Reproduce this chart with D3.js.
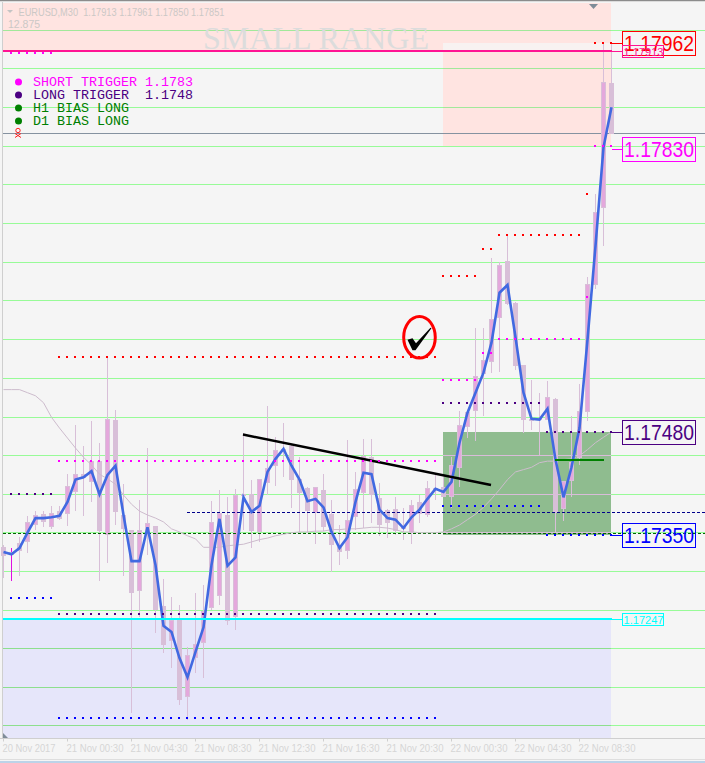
<!DOCTYPE html>
<html><head><meta charset="utf-8">
<script src="https://cdn.jsdelivr.net/npm/d3@7/dist/d3.min.js"></script>
<style>html,body{margin:0;padding:0;background:#f5f5f5;overflow:hidden}svg{display:block}</style>
</head><body><div id="c"></div>
<script>
// All price series are in points above 1.17000 (1 point = 0.00001)
const opens=[334,324,340,341,363,377,360,381,377,406,429,419,446,350,500,376,357,277,350,362,258,212,241,139,190,210,255,271,376,243,403,403,354,418,440,462,466,423,411,379,409,377,334,329,373,405,451,398,383,384,360,353,393,376,411,412,399,437,490,511,559,575,632,706,652,571,501,502,500,527,384,420,450,510,675,775,938];
const highs=[337,333,347,375,381,381,388,388,429,493,466,498,470,581,513,416,357,396,463,362,293,269,259,204,275,285,394,409,399,410,483,422,423,518,477,496,467,451,412,412,429,396,363,474,432,475,475,418,384,399,385,396,402,420,431,427,451,511,511,619,619,710,705,740,653,571,552,535,550,528,420,505,546,685,793,990,990];
const lows=[294,290,297,327,357,360,358,370,362,381,375,393,290,314,363,297,119,243,324,223,197,177,129,110,171,164,253,259,233,227,357,333,341,402,414,425,385,353,353,338,355,302,311,319,357,359,366,349,346,350,344,338,366,373,396,399,385,412,476,472,505,561,562,649,565,483,487,454,500,354,368,399,441,498,670,726,871];
const closes=[323,328,329,367,376,367,379,371,414,429,424,446,355,501,380,358,275,357,366,253,207,240,136,194,208,251,367,379,238,402,401,355,423,437,461,459,422,405,381,412,360,337,328,370,410,453,402,363,366,355,358,389,377,411,409,399,441,493,510,557,578,631,701,650,570,500,498,500,529,379,420,445,511,676,770,939,871];
const fastLine=[328,325,333,353,372,372,373,375,393,422,425,433,403,428,440,376,316,316,360,311,232,224,190,165,198,230,311,371,310,321,399,380,388,432,449,462,440,422,394,397,386,354,333,347,393,431,429,383,372,370,359,373,383,397,410,406,419,470,509,535,561,600,665,675,607,535,501,500,514,448,399,438,489,604,726,854,906];
const slowLine=[539,539,539,535,531,522,503,489,476,463,451,441,429,423,416,402,390,381,376,372,367,358,354,349,345,334,334,334,336,337,338,341,344,346,349,351,353,354,354,355,355,357,357,358,358,359,360,360,359,357,354,354,353,353,353,354,358,363,370,377,386,397,409,422,432,435,438,444,446,446,448,449,453,461,470,477,484];
const gridLevels=[1006,956.5,906.4,855.7,806.3,755.6,704.9,654.9,604.2,554.1,504,454,403.3,353.3,302.6,251.9,202.5,152.4,102.4];
const tickBars=[0,8,16,24,32,40,48,56,64,72];
const tickLabels=["20 Nov 2017","21 Nov 00:30","21 Nov 04:30","21 Nov 08:30","21 Nov 12:30","21 Nov 16:30","21 Nov 20:30","22 Nov 00:30","22 Nov 04:30","22 Nov 08:30"];
const legendText=["SHORT TRIGGER 1.1783","LONG TRIGGER  1.1748","H1 BIAS LONG","D1 BIAS LONG"];
const legendColors=["#ff00ff","#4b0082","#008000","#008000"];
// zones: [firstBar,lastBar,topPts,bottomPts,fill,gridTint]
const zones=[
 [0,76,1041.6,979,"#ffe4e1","#a2e89a"],
 [55,76,989.6,855.7,"#ffe4e1","#a2e89a"],
 [55,76,989.6,979,"#f8f2f1","#a2e89a"],
 [0,76,241,86.1,"#e6e6fa","#8ddf8d"],
 [55,76,484,350,"#8fbc8f","#d9bcd9"]];
// dotted levels: [firstBar,lastBar,pts,colour]
const dotted=[
 [7,54,581.4,"#ff0000"],[1,6,976.6,"#ff00ff"],[7,54,446,"#ff00ff"],[1,6,403,"#4b0082"],[1,6,268,"#0000ff"],
 [7,54,247,"#4b0082"],[7,54,111.5,"#0000ff"],[74,76,990,"#ff0000"],[74,76,856,"#ff00ff"],[73,73,793,"#ff0000"],
 [62,72,740,"#ff0000"],[60,61,722,"#ff0000"],[55,59,687,"#ff0000"],[62,72,605,"#ff00ff"],[60,61,586,"#ff00ff"],
 [55,59,551,"#ff00ff"],[73,73,659,"#ff00ff"],[55,67,522,"#4b0082"],[55,67,388,"#0000ff"],[68,76,484,"#4b0082"],[68,76,350,"#0000ff"]];
// price tags: [levelPts,text,colour,big]
const tags=[[990,"1.17962","#ff0000",1],[856,"1.17830","#ff00ff",1],[484,"1.17480","#4b0082",1],[350,"1.17350","#0000ff",1],[241,"1.17247","#00ffff",0],[979,"1.17913","#ff1493",0]];
const trendBars=[30,61],trendPts=[480.6,415];
const shortBars=[69,75],shortPts=447;
const hiLine=979,loLine=241,greyLine=872.6,greenDash=352.6,navyDash=380,navyStartBar=23;

const W=705,H=763;
const svg=d3.select("#c").append("svg").attr("width",W).attr("height",H);
const x=d3.scaleLinear().domain([0,76]).range([3,611]);
const y=d3.scaleLinear().domain([1045.5,53.6]).range([0,763]);
const py=v=>Math.round(y(v));
const sans="'Liberation Sans',Arial,sans-serif";

svg.append("rect").attr("width",W).attr("height",H).attr("fill","#f5f5f5");
svg.append("rect").attr("width",W).attr("height",1).attr("fill","#8c8c8c");
svg.append("rect").attr("y",1).attr("width",W).attr("height",1).attr("fill","#dcdcdc");

// zones
zones.forEach(z=>svg.append("rect").attr("x",x(z[0])).attr("y",py(z[2]))
  .attr("width",x(z[1])-x(z[0])).attr("height",py(z[3])-py(z[2])).attr("fill",z[4]));
// grid
gridLevels.forEach(g=>{
  const yy=py(g)+.5;
  svg.append("line").attr("x1",3).attr("x2",W).attr("y1",yy).attr("y2",yy).attr("stroke","#98fb98");
  zones.forEach(z=>{ if(g<z[2]&&g>z[3]) svg.append("line").attr("x1",x(z[0])).attr("x2",x(z[1])).attr("y1",yy).attr("y2",yy).attr("stroke",z[5]); });
});
// horizontal lines
const hl=(v,c,w,dash,x1)=>svg.append("line").attr("x1",x1||3).attr("x2",W).attr("y1",py(v)+.5).attr("y2",py(v)+.5)
  .attr("stroke",c).attr("stroke-width",w).attr("stroke-dasharray",dash||null);
hl(greyLine,"#8592a0",1);

// axes
const axis=d3.axisBottom(x).tickValues(tickBars).tickFormat((d,i)=>tickLabels[i]).tickSize(3).tickPadding(3).tickSizeOuter(0);
const ag=svg.append("g").attr("transform","translate(0,738.5)").call(axis);
ag.select(".domain").remove();
ag.selectAll("line").attr("stroke","#cfcfcf");
ag.selectAll("text").attr("fill","#d6d6d6").attr("font-family",sans).attr("font-size",10).attr("text-anchor","start").attr("dx",-1).attr("textLength",57).attr("lengthAdjust","spacingAndGlyphs");
ag.select("text").attr("textLength",53);
svg.append("line").attr("x1",0).attr("x2",W).attr("y1",738.5).attr("y2",738.5).attr("stroke","#cfcfcf");
svg.append("line").attr("x1",2.5).attr("x2",2.5).attr("y1",2).attr("y2",738).attr("stroke","#cfcfcf");
svg.append("rect").attr("y",759).attr("width",W).attr("height",1).attr("fill","#dedede");
svg.append("rect").attr("y",761).attr("width",W).attr("height",2).attr("fill","#bcd3e8");
svg.append("path").attr("d","M3,733L8,738L3,738Z").attr("fill","#7f8c98");
svg.append("path").attr("d","M589,4L598,4L593.5,9Z").attr("fill","#7f8c98");

// candles
const idx=d3.range(opens.length);
const cg=svg.append("g");
cg.selectAll("line").data(idx).join("line")
  .attr("x1",i=>Math.round(x(i))+.5).attr("x2",i=>Math.round(x(i))+.5)
  .attr("y1",i=>py(highs[i])).attr("y2",i=>py(lows[i]))
  .attr("stroke",i=>i===1?"#e010e0":"#d8bfd8");
cg.selectAll("rect").data(idx).join("rect")
  .attr("x",i=>Math.round(x(i))-2).attr("width",5)
  .attr("y",i=>py(Math.max(opens[i],closes[i]))).attr("height",i=>Math.max(1,py(Math.min(opens[i],closes[i]))-py(Math.max(opens[i],closes[i]))))
  .attr("fill","#d8bfd8");
cg.selectAll("rect.in").data(idx.filter(i=>closes[i]>opens[i])).join("rect").attr("class","in")
  .attr("x",i=>Math.round(x(i))-1).attr("width",3)
  .attr("y",i=>py(closes[i])+1).attr("height",i=>Math.max(0,py(opens[i])-py(closes[i])-2))
  .attr("fill","#e4a8dc");

// dashed levels on top of candles
hl(greenDash,"#006400",1,"3,2");
hl(navyDash,"#00008b",1,"3,2",x(navyStartBar));

// moving averages
const ln=d3.line().x((d,i)=>x(i)+.5).y(d=>y(d));
svg.append("path").attr("d",ln(slowLine)).attr("fill","none").attr("stroke","#cdbccd").attr("stroke-width",1);
svg.append("path").attr("d",ln(fastLine)).attr("fill","none").attr("stroke","#4169e1").attr("stroke-width",2.6).attr("stroke-linejoin","miter");

// zone edge lines
svg.append("rect").attr("x",3).attr("width",x(76)-3+1).attr("y",py(hiLine)-1).attr("height",2).attr("fill","#ff1493");
svg.append("rect").attr("x",3).attr("width",x(76)-3+1).attr("y",py(loLine)-1).attr("height",2).attr("fill","#00ffff");

// short green level & trend line
svg.append("rect").attr("x",x(shortBars[0])).attr("width",x(shortBars[1])-x(shortBars[0])+1).attr("y",py(shortPts)-1).attr("height",2).attr("fill","#008000");
svg.append("line").attr("x1",x(trendBars[0])).attr("x2",x(trendBars[1])).attr("y1",y(trendPts[0])).attr("y2",y(trendPts[1])).attr("stroke","#000").attr("stroke-width",2.4);

// dotted levels
dotted.forEach(d=>{
  svg.append("g").selectAll("rect").data(d3.range(d[0],d[1]+1)).join("rect")
   .attr("x",i=>Math.round(x(i))-1).attr("y",py(d[2])-1).attr("width",2).attr("height",2).attr("fill",d[3]);
});

// price tags
tags.forEach(t=>{
  const yy=py(t[0]);
  const big=t[3];
  const cy= big ? (t[1]==="1.17830"?yy+3:yy) : yy;
  const bh= big?24:12, bw= big?73:41;
  svg.append("line").attr("x1",612).attr("x2",622).attr("y1",cy+.5).attr("y2",cy+.5).attr("stroke",t[2]);
  svg.append("rect").attr("x",622.5).attr("y",cy-bh/2+.5).attr("width",bw).attr("height",bh).attr("fill","none").attr("stroke",t[2]);
  svg.append("text").attr("x",big?624:623.5).attr("y",cy+(big?8:4.5)).text(t[1]).attr("fill",t[2]).attr("font-family",sans)
    .attr("font-size",big?22:11).attr("textLength",big?70:40).attr("lengthAdjust","spacingAndGlyphs");
});

// legend
legendText.forEach((s,i)=>{
  const yy=82+i*13;
  svg.append("circle").attr("cx",18.5).attr("cy",yy).attr("r",3.5).attr("fill",legendColors[i]);
  svg.append("text").attr("x",33).attr("y",yy+3.5).text(s).style("white-space","pre")
    .attr("fill",legendColors[i]).attr("font-family","'Liberation Mono','Courier New',monospace").attr("font-size",13.33);
});
// skull marker
const sk=svg.append("g").attr("stroke","#ff2020").attr("fill","none");
sk.append("circle").attr("cx",18).attr("cy",130.5).attr("r",2.2);
sk.append("path").attr("d","M15,133.5L21,137.5M21,133.5L15,137.5");

// header
svg.append("path").attr("d","M7,10L13,10L10,13Z").attr("fill","#c4c4c4");
svg.append("text").attr("x",18.5).attr("y",15.5).text("EURUSD,M30  1.17913 1.17961 1.17850 1.17851").style("white-space","pre")
  .attr("fill","#cbc8c6").attr("font-family",sans).attr("font-size",10.5).attr("textLength",206).attr("lengthAdjust","spacingAndGlyphs");
svg.append("text").attr("x",8).attr("y",28).text("12.875").attr("fill","#cbc8c6").attr("font-family",sans).attr("font-size",10.5);
svg.append("text").attr("x",203).attr("y",49).text("SMALL RANGE").attr("fill","#dcdcdc").attr("font-family","'Liberation Serif','Times New Roman',serif").attr("font-size",31).attr("textLength",226).attr("lengthAdjust","spacingAndGlyphs");

// check annotation
const cx=x(52.06),cy=y(607);
svg.append("ellipse").attr("cx",cx).attr("cy",cy).attr("rx",15.8).attr("ry",20.8).attr("fill","none").attr("stroke","#ff0000").attr("stroke-width",3);
svg.append("path").attr("transform",`translate(${cx},${cy})`).attr("d","M-12,2.5L-7,1L-3.5,6L11,-9.5L12,-9L-4,13L-7,13Z").attr("fill","#000");
</script></body></html>
